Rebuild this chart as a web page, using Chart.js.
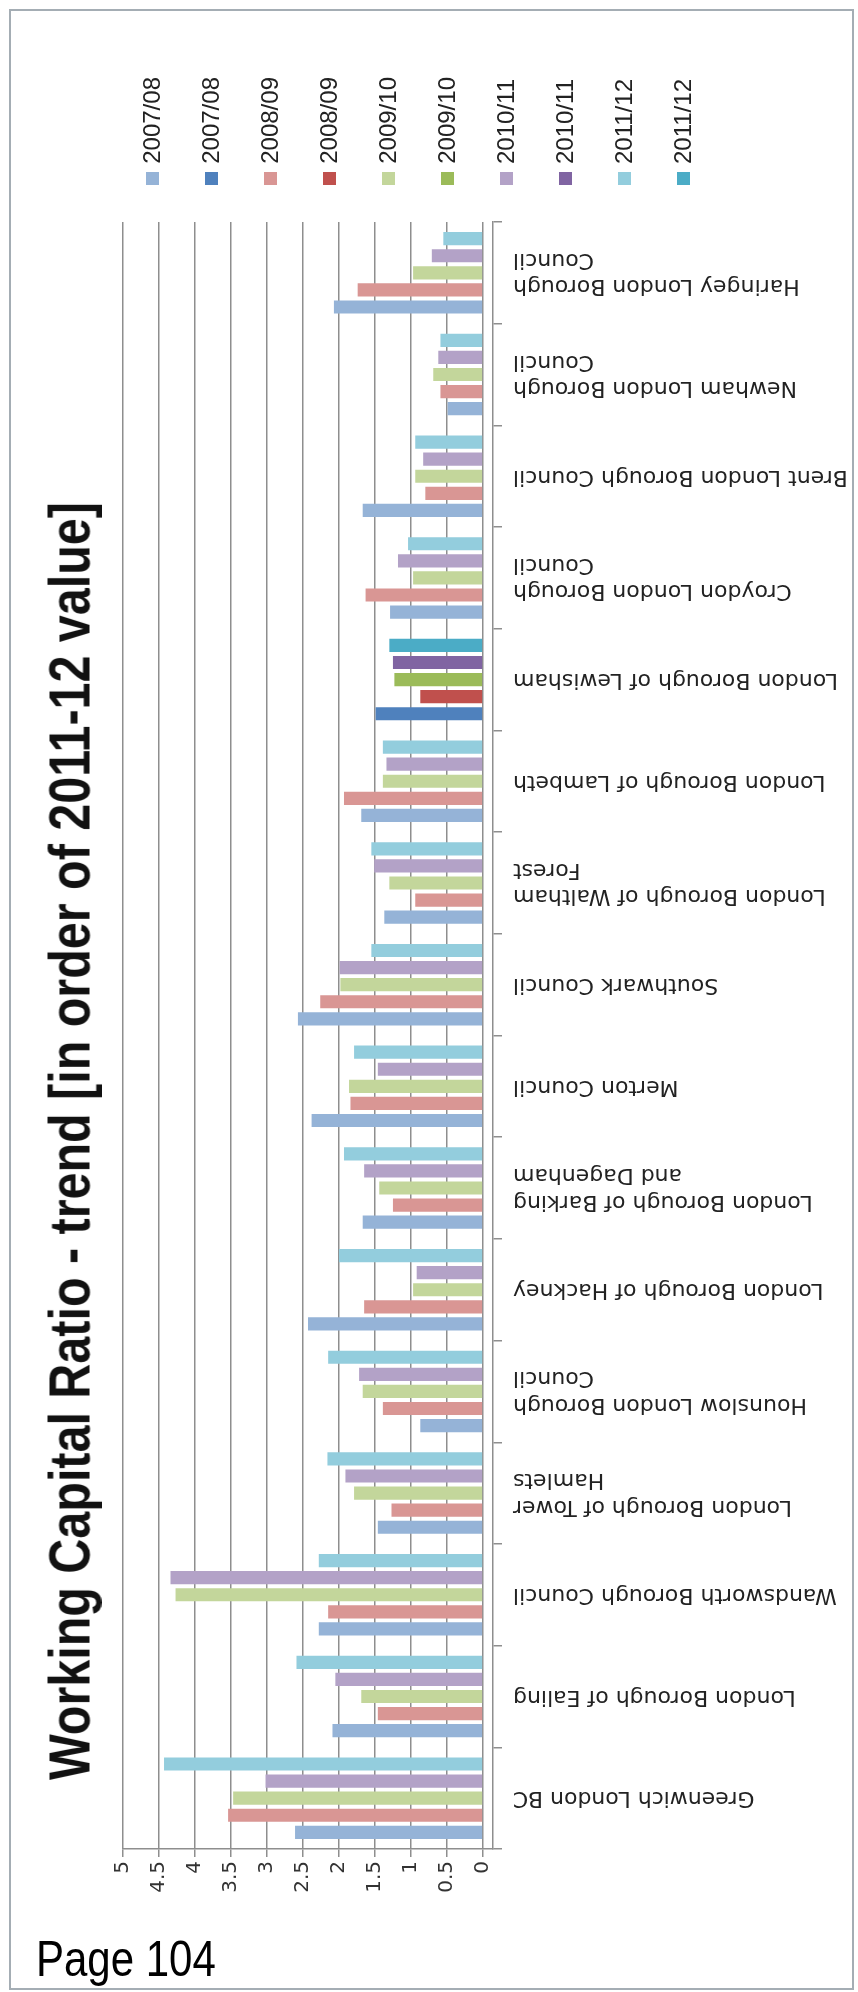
<!DOCTYPE html>
<html>
<head>
<meta charset="utf-8">
<title>Working Capital Ratio - trend</title>
<script src="https://cdn.jsdelivr.net/npm/chart.js@4.4.0/dist/chart.umd.min.js"></script>
<style>
  html, body { margin: 0; padding: 0; background: #fff; }
  body { position: relative; width: 858px; height: 1992px; overflow: hidden; }
  #page { position: absolute; left: 9px; top: 9px; width: 841px; height: 1977px; border: 2px solid #a4adb4; }
  #chart { position: absolute; left: 0; top: 0; }
  #title {
    position: absolute; left: 70px; top: 1141px;
    transform: translate(-50%, -50%) rotate(-90deg) scaleX(0.85);
    font: bold 57px "Liberation Sans", sans-serif;
    white-space: nowrap; line-height: 1; color: #111;
  }
  .lg { position: absolute; top: 60px; height: 104px; width: 30px; display: flex; justify-content: center; align-items: flex-end; }
  .lg span { writing-mode: vertical-rl; transform: rotate(180deg); font-size: 24px; font-family: "Liberation Sans", sans-serif; color: #222; line-height: 1; white-space: nowrap; }
  .sw { position: absolute; top: 172px; width: 13px; height: 13px; }
  #pageno {
    position: absolute; left: 36px; top: 1934px;
    font: 50px "Liberation Sans", sans-serif; line-height: 1; color: #000;
    transform: scaleX(0.84); transform-origin: 0 50%;
  }
</style>
</head>
<body>
<div id="page"></div>
<canvas id="chart" width="858" height="1992"></canvas>
<div id="title"></div>
<div id="legend"></div>
<div id="pageno">Page 104</div>
<script>
// ---- data (bottom of the chart first) ----
const categories = [
  'Greenwich London BC',
  'London Borough of Ealing',
  'Wandsworth Borough Council',
  ['London Borough of Tower', 'Hamlets'],
  ['Hounslow London Borough', 'Council'],
  'London Borough of Hackney',
  ['London Borough of Barking', 'and Dagenham'],
  'Merton Council',
  'Southwark Council',
  ['London Borough of Waltham', 'Forest'],
  'London Borough of Lambeth',
  'London Borough of Lewisham',
  ['Croydon London Borough', 'Council'],
  'Brent London Borough Council',
  ['Newham London Borough', 'Council'],
  ['Haringey London Borough', 'Council']
];

const years = ['2007/08', '2008/09', '2009/10', '2010/11', '2011/12'];

const wcr0708 = [2.61, 2.09, 2.28, 1.46, 0.87, 2.43, 1.67, 2.38, 2.57, 1.37, 1.69, 1.49, 1.29, 1.67, 0.49, 2.07];
const wcr0809 = [3.54, 1.46, 2.15, 1.27, 1.39, 1.65, 1.25, 1.84, 2.26, 0.94, 1.93, 0.87, 1.63, 0.80, 0.59, 1.74];
const wcr0910 = [3.47, 1.69, 4.27, 1.79, 1.67, 0.97, 1.44, 1.86, 1.98, 1.30, 1.39, 1.23, 0.97, 0.94, 0.69, 0.97];
const wcr1011 = [3.02, 2.05, 4.34, 1.91, 1.72, 0.92, 1.65, 1.46, 1.99, 1.51, 1.34, 1.25, 1.18, 0.83, 0.62, 0.71];
const wcr1112 = [4.43, 2.59, 2.28, 2.16, 2.15, 2.00, 1.93, 1.79, 1.55, 1.55, 1.39, 1.30, 1.04, 0.94, 0.59, 0.55];

const highlighted = 'London Borough of Lewisham';   // drawn in the darker shades

const chartTitle = 'Working Capital Ratio - trend [in order of 2011-12 value]';

// ---- look ----
const lightColours = ['#95b3d7', '#d99694', '#c3d69b', '#b3a2c7', '#93cddd'];
const darkColours  = ['#4f81bd', '#c0504d', '#9bbb59', '#8064a2', '#4bacc6'];
const gridGrey = '#8e8e8e';
const labelFont = { family: 'DejaVu Sans', size: 22 };

const series = [wcr0708, wcr0809, wcr0910, wcr1011, wcr1112];
const hiIdx = categories.findIndex(c => [].concat(c).join(' ') === highlighted);

// light series everywhere except the highlighted council, dark series only there
const datasets = [];
for (let k = years.length - 1; k >= 0; k--) {
  datasets.push({
    label: years[k],
    data: series[k].map((v, i) => (i === hiIdx ? null : v)),
    backgroundColor: lightColours[k]
  });
  datasets.push({
    label: years[k],
    data: series[k].map((v, i) => (i === hiIdx ? v : null)),
    backgroundColor: darkColours[k]
  });
}
datasets.forEach(d => {
  d.skipNull = true;
  d.borderWidth = 0;
  d.barPercentage = 0.77;
  d.categoryPercentage = 0.84;
});

new Chart(document.getElementById('chart'), {
  type: 'bar',
  data: { labels: categories, datasets },
  options: {
    indexAxis: 'y',
    responsive: false,
    animation: false,
    layout: { padding: { left: 123, top: 222, right: 0, bottom: 83 } },
    plugins: {
      legend: { display: false },
      title: { display: false },
      tooltip: { enabled: false }
    },
    scales: {
      x: {
        type: 'linear',
        reverse: true,
        min: -0.14,
        max: 5,
        ticks: {
          stepSize: 0.5,
          includeBounds: false,
          minRotation: 90,
          maxRotation: 90,
          padding: 4,
          color: '#333',
          font: { family: 'DejaVu Sans', size: 20 },
          callback: v => v
        },
        grid: { color: gridGrey, lineWidth: 1.5, tickLength: 8 },
        border: { display: true, color: gridGrey, width: 1.5 },
        afterFit: s => { s.height = 60; s.paddingLeft = 0; s.paddingRight = 0; }
      },
      y: {
        type: 'category',
        position: 'right',
        reverse: true,
        offset: true,
        grid: { drawOnChartArea: false, offset: true, tickLength: 9, color: gridGrey, lineWidth: 1.5 },
        border: { display: true, color: gridGrey, width: 1.5 },
        ticks: {
          // upside-down labels whose far end sits just right of the axis
          autoSkip: false,
          minRotation: 180,
          maxRotation: 180,
          mirror: true,
          crossAlign: 'near',
          padding: 20,
          color: '#222',
          font: labelFont
        },
        afterFit: s => { s.width = 365; s.paddingTop = 0; s.paddingBottom = 0; }
      }
    }
  }
});

// title and legend are turned on their side like the rest of the page
document.getElementById('title').textContent = chartTitle;

const legendBox = document.getElementById('legend');
let n = 0;
years.forEach((y, k) => {
  [lightColours[k], darkColours[k]].forEach(col => {
    const cx = 152 + 59 * n;
    const item = document.createElement('div');
    item.className = 'lg';
    item.style.left = (cx - 15) + 'px';
    const span = document.createElement('span');
    span.textContent = y;
    item.appendChild(span);
    const sw = document.createElement('div');
    sw.className = 'sw';
    sw.style.left = (cx - 6.5) + 'px';
    sw.style.background = col;
    legendBox.appendChild(item);
    legendBox.appendChild(sw);
    n++;
  });
});
</script>
</body>
</html>
